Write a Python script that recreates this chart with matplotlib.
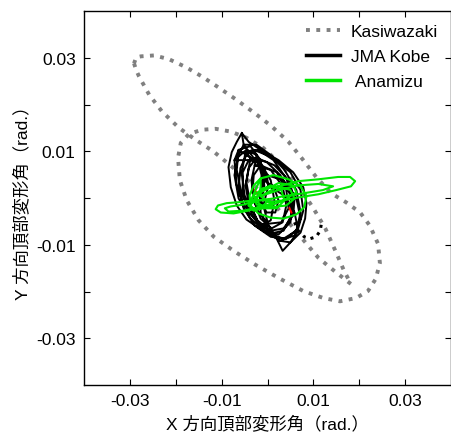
import numpy as np
import matplotlib.pyplot as plt

plt.rcParams['font.family'] = ['Liberation Sans', 'Noto Sans CJK JP', 'DejaVu Sans']

# Kasiwazaki orbit (rad.)
kasi_x = [-0.0291, -0.0286, -0.0280, -0.0258, -0.0230, -0.0193, -0.0156, -0.0117, -0.0074, -0.0030, 0.0013,
          0.0061, 0.0111, 0.0148, 0.0182,
          0.0167, 0.0148, 0.0126, 0.0100, 0.0067, 0.0030, -0.0009, -0.0046, -0.0080, -0.0113,
          -0.0143, -0.0171, -0.0189, -0.0195, -0.0191, -0.0176, -0.0150, -0.0117, -0.0074, -0.0026,
          0.0024, 0.0078, 0.0122, 0.0158, 0.0193, 0.0219, 0.0236, 0.0245, 0.0241, 0.0223,
          0.0202, 0.0171, 0.0139, 0.0106, 0.0078, 0.0046, 0.0007, -0.0030, -0.0069, -0.0106,
          -0.0143, -0.0178, -0.0215, -0.0247, -0.0276, -0.0286, -0.0291]
kasi_y = [0.0288, 0.0273, 0.0260, 0.0221, 0.0185, 0.0150, 0.0124, 0.0099, 0.0064, 0.0027, -0.0011,
          -0.0070, -0.0128, -0.0158, -0.0184,
          -0.0156, -0.0113, -0.0065, -0.0022, 0.0027, 0.0071, 0.0107, 0.0129, 0.0142, 0.0148,
          0.0146, 0.0137, 0.0118, 0.0086, 0.0038, -0.0005, -0.0048, -0.0083, -0.0113, -0.0143,
          -0.0171, -0.0199, -0.0214, -0.0221, -0.0214, -0.0199, -0.0173, -0.0139, -0.0098, -0.0059,
          -0.0031, -0.0009, 0.0010, 0.0045, 0.0081, 0.0120, 0.0155, 0.0183, 0.0211, 0.0236,
          0.0260, 0.0280, 0.0297, 0.0305, 0.0303, 0.0301, 0.0288]

# JMA Kobe orbit (rad.), loop after loop
kobe_x = [-0.0009, 0.0013, 0.0024, 0.0017, -0.0002, -0.0015, -0.0015, -0.0009,
          -0.0015, 0.0020, 0.0041, 0.0046, 0.0030, 0.0002, -0.0022, -0.0033, -0.0030, -0.0015,
          -0.0028, 0.0007, 0.0033, 0.0041, 0.0033, 0.0009, -0.0015, -0.0030, -0.0035, -0.0028,
          -0.0024, 0.0015, 0.0046, 0.0059, 0.0056, 0.0035, 0.0007, -0.0022, -0.0041, -0.0048, -0.0041, -0.0024,
          -0.0041, -0.0015, 0.0007, 0.0015, 0.0007, -0.0015, -0.0041, -0.0054, -0.0054, -0.0041,
          -0.0072, -0.0046, -0.0024, -0.0013, -0.0015, -0.0030, -0.0052, -0.0067, -0.0072,
          -0.0063, -0.0037, -0.0015, -0.0007, -0.0015, -0.0037, -0.0056, -0.0067, -0.0063,
          -0.0037, -0.0002, 0.0028, 0.0050, 0.0052, 0.0035, 0.0007, -0.0020, -0.0037, -0.0046, -0.0037,
          -0.0048, -0.0020, 0.0013, 0.0041, 0.0056, 0.0050, 0.0024, -0.0007, -0.0033, -0.0050, -0.0056, -0.0048,
          -0.0030, 0.0013, 0.0050, 0.0072, 0.0078, 0.0067, 0.0041, 0.0007, -0.0028, -0.0052, -0.0063, -0.0059, -0.0046, -0.0030,
          0.0002, 0.0035, 0.0059, 0.0067, 0.0050, 0.0024, 0.0002, -0.0009, 0.0002,
          -0.0002, 0.0035, 0.0063, 0.0072, 0.0059, 0.0028, 0.0002, -0.0015, -0.0017, -0.0002,
          -0.0052, -0.0024, 0.0007, 0.0037, 0.0063, 0.0072, 0.0063, 0.0035, -0.0002, -0.0037, -0.0063, -0.0072, -0.0063, -0.0052,
          -0.0056, -0.0041, -0.0015, 0.0024, 0.0056, 0.0078, 0.0085, 0.0082, 0.0072, 0.0052,
          0.0033, 0.0020, -0.0015, -0.0046, -0.0067, -0.0080, -0.0085, -0.0078, -0.0067, -0.0056]
kobe_y = [0.0038, 0.0025, -0.0005, -0.0031, -0.0031, -0.0005, 0.0021, 0.0038,
          0.0070, 0.0055, 0.0017, -0.0022, -0.0052, -0.0055, -0.0027, 0.0012, 0.0049, 0.0070,
          0.0070, 0.0060, 0.0025, -0.0016, -0.0052, -0.0065, -0.0044, -0.0005, 0.0038, 0.0070,
          0.0086, 0.0070, 0.0038, -0.0001, -0.0037, -0.0065, -0.0070, -0.0048, -0.0011, 0.0027, 0.0064, 0.0086,
          0.0081, 0.0075, 0.0038, -0.0005, -0.0048, -0.0059, -0.0031, 0.0012, 0.0055, 0.0081,
          0.0081, 0.0103, 0.0092, 0.0049, -0.0001, -0.0031, -0.0016, 0.0027, 0.0081,
          0.0103, 0.0111, 0.0081, 0.0027, -0.0016, -0.0027, 0.0006, 0.0060, 0.0103,
          0.0086, 0.0077, 0.0049, 0.0006, -0.0037, -0.0070, -0.0076, -0.0052, -0.0016, 0.0034, 0.0086,
          0.0098, 0.0103, 0.0081, 0.0042, -0.0005, -0.0052, -0.0078, -0.0070, -0.0037, 0.0006, 0.0055, 0.0098,
          0.0103, 0.0086, 0.0055, 0.0017, -0.0027, -0.0065, -0.0087, -0.0083, -0.0059, -0.0022, 0.0021, 0.0064, 0.0092, 0.0103,
          0.0027, 0.0006, -0.0031, -0.0070, -0.0095, -0.0091, -0.0059, -0.0016, 0.0027,
          0.0049, 0.0038, -0.0001, -0.0044, -0.0080, -0.0091, -0.0070, -0.0031, 0.0012, 0.0049,
          0.0114, 0.0114, 0.0092, 0.0060, 0.0017, -0.0031, -0.0070, -0.0087, -0.0074, -0.0044, -0.0001, 0.0049, 0.0092, 0.0114,
          0.0139, 0.0120, 0.0103, 0.0081, 0.0055, 0.0023, -0.0011, -0.0044, -0.0074, -0.0093,
          -0.0113, -0.0087, -0.0067, -0.0046, -0.0016, 0.0023, 0.0066, 0.0098, 0.0120, 0.0139]

# sparse end of the Kobe record
kobe_tail_x = [0.0059, 0.0067, 0.0080, 0.0093, 0.0106, 0.0115, 0.0117]
kobe_tail_y = [-0.0052, -0.0070, -0.0083, -0.0087, -0.0083, -0.0070, -0.0057]

# red marks inside the Kobe loops
red_x = [-0.0028, -0.0022, np.nan, 0.0048, 0.0052]
red_y = [0.0017, 0.0008, np.nan, -0.0022, -0.0031]

# Anamizu orbit (rad.)
ana_x = [-0.0030, -0.0009, 0.0024, 0.0050, 0.0059, 0.0041, 0.0007, -0.0024, -0.0030,
         -0.0024, -0.0015, 0.0007, 0.0030, 0.0037, 0.0020, -0.0009, -0.0024,
         -0.0041, -0.0015, 0.0024, 0.0056, 0.0063, 0.0035, -0.0002, -0.0030, -0.0041,
         -0.0015, 0.0013, 0.0046, 0.0072, 0.0085, 0.0080, 0.0063, 0.0035, 0.0007, -0.0020, -0.0037, -0.0039, -0.0030, -0.0015,
         -0.0015, 0.0024, 0.0067, 0.0111, 0.0154, 0.0180, 0.0191, 0.0182, 0.0150, 0.0111, 0.0072, 0.0035, 0.0002, -0.0015,
         0.0024, 0.0067, 0.0111, 0.0143, 0.0121, 0.0078, 0.0035,
         0.0013, -0.0020, -0.0052, -0.0080, -0.0093, -0.0085, -0.0052, -0.0020, 0.0013,
         0.0002, -0.0030, -0.0063, -0.0089, -0.0108, -0.0113, -0.0102, -0.0074, -0.0041, -0.0009, 0.0002]
ana_y = [0.0006, 0.0021, 0.0025, 0.0017, -0.0001, -0.0016, -0.0020, -0.0014, 0.0006,
         -0.0005, 0.0017, 0.0027, 0.0017, -0.0005, -0.0022, -0.0022, -0.0005,
         -0.0016, 0.0012, 0.0032, 0.0027, 0.0012, -0.0005, -0.0020, -0.0027, -0.0016,
         0.0042, 0.0049, 0.0040, 0.0025, 0.0004, -0.0020, -0.0035, -0.0044, -0.0042, -0.0033, -0.0016, 0.0006, 0.0027, 0.0042,
         0.0004, 0.0025, 0.0036, 0.0040, 0.0045, 0.0045, 0.0036, 0.0025, 0.0017, 0.0008, 0.0002, -0.0005, -0.0009, 0.0004,
         0.0017, 0.0027, 0.0030, 0.0025, 0.0017, 0.0010, 0.0004,
         -0.0001, -0.0005, -0.0014, -0.0018, -0.0022, -0.0029, -0.0027, -0.0020, -0.0011,
         -0.0005, -0.0005, -0.0009, -0.0011, -0.0016, -0.0024, -0.0031, -0.0033, -0.0027, -0.0016, -0.0005]

ticks = [-0.03, -0.02, -0.01, 0.0, 0.01, 0.02, 0.03]
tick_labels = ['-0.03', '', '-0.01', '', '0.01', '', '0.03']

fig = plt.figure(figsize=(4.52, 4.39), dpi=100)
ax = fig.add_axes([84 / 452, 53 / 439, 367 / 452, 374 / 439])

ax.plot(kasi_x, kasi_y, color='#808080', lw=2.8, linestyle=':', dash_capstyle='butt',
        label='Kasiwazaki')
ax.plot(kobe_x, kobe_y, color='black', lw=1.4, label='JMA Kobe')
ax.plot(kobe_tail_x, kobe_tail_y, color='black', lw=2.2, linestyle=':', dash_capstyle='butt')
ax.plot(red_x, red_y, color='red', lw=1.5)
ax.plot(ana_x, ana_y, color='#00e600', lw=1.5, label=' Anamizu')

ax.set_xlim(-0.04, 0.04)
ax.set_ylim(-0.04, 0.04)
ax.set_xticks(ticks)
ax.set_xticklabels(tick_labels)
ax.set_yticks(ticks)
ax.set_yticklabels(tick_labels)
ax.tick_params(direction='in', top=True, right=True, length=4, width=0.8,
               labelsize=12.5, pad=6)
for s in ax.spines.values():
    s.set_linewidth(1.0)

ax.set_xlabel('X 方向頂部変形角（rad.）', fontsize=12.5, labelpad=4)
ax.set_ylabel('Y 方向頂部変形角（rad.）', fontsize=12.5, labelpad=4)

leg = ax.legend(loc='upper right', frameon=False, fontsize=12.5, handlelength=2.0,
                handletextpad=0.6, labelspacing=0.55, borderaxespad=0.35)
for h in leg.get_lines()[1:]:
    h.set_linewidth(2.5)

fig.savefig('out.png', dpi=100)
